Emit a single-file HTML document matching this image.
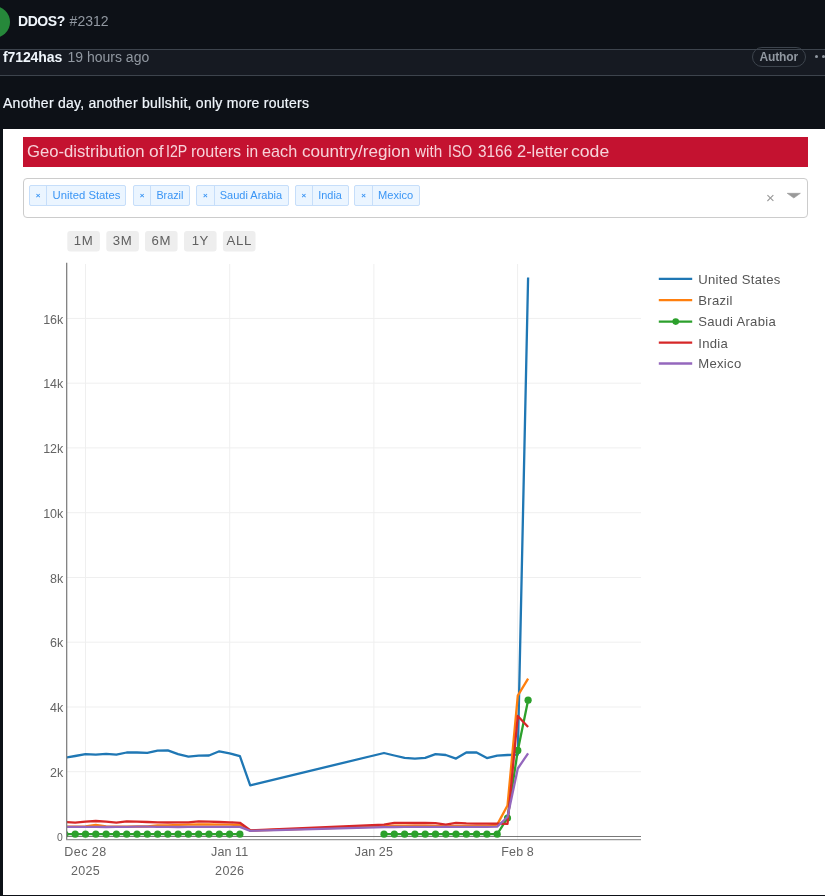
<!DOCTYPE html>
<html><head><meta charset="utf-8"><title>DDOS? #2312</title>
<style>
html,body{margin:0;padding:0}
body{width:825px;height:896px;background:#0d1117;position:relative;overflow:hidden;font-family:"Liberation Sans",sans-serif;color:#f0f6fc}
.abs{position:absolute;white-space:nowrap}
.pill{left:-22px;top:6px;width:32px;height:31.5px;border-radius:16px;background:#26883a}
.ttl{left:18px;top:13px;font-size:14px;line-height:16px;font-weight:700;letter-spacing:-0.45px}
.num{left:69.6px;top:13px;font-size:14px;line-height:16px;color:#9198a1}
.hdr{left:0;top:49px;width:825px;height:25px;background:#161a22;border-top:1px solid #3d444d;border-bottom:1px solid #3d444d}
.usr{left:3px;top:49px;font-size:14px;line-height:16px;font-weight:700;letter-spacing:-0.1px}
.ago{left:67.5px;top:49px;font-size:14px;line-height:16px;color:#9198a1}
.badge{left:752px;top:46.6px;width:51.5px;height:18px;border:1px solid #3d444d;border-radius:10px;font-size:12px;line-height:18px;font-weight:700;color:#9198a1;text-align:center;letter-spacing:-0.15px}
.dot{width:3px;height:3px;border-radius:50%;background:#9198a1;top:55px}
.body{left:3px;top:95px;font-size:14px;line-height:16px;letter-spacing:0.255px;-webkit-text-stroke:0.2px #f0f6fc}
.img{left:3px;top:128.7px;width:822px;height:766.2px;background:#fff}
.red{left:23px;top:137.2px;width:785px;height:29.6px;background:#c41230}
.rt{left:0;top:142.2px;width:825px;height:20px;font-size:16.6px;line-height:20px;color:#f7d3d9}
.rt span{position:absolute;top:0;display:block;transform-origin:0 50%;white-space:nowrap}
.sel{left:23px;top:178.2px;width:783px;height:37.6px;border:1px solid #ccc;border-radius:4px;background:#fff}
.tag{position:absolute;top:185px;height:19px;border:1px solid #c6defa;border-radius:2px;background:#ebf5ff;color:#3a95f5;box-sizing:content-box;white-space:nowrap;margin-left:0}
.tag .tx{position:absolute;left:0;top:0;width:16.4px;height:19px;border-right:1px solid #c6defa;text-align:center;font-size:8px;line-height:19.5px;font-weight:700}
.tag .tl{position:absolute;left:22.6px;top:0;line-height:19px}
.clr{left:766px;top:188.5px;font-size:15px;line-height:18px;color:#999}
svg text{font-family:"Liberation Sans",sans-serif}
</style></head><body><div id="wrap" style="position:absolute;left:0;top:0;width:825px;height:896px;will-change:transform">
<div class="abs pill"></div>
<div class="abs ttl">DDOS?</div><div class="abs num">#2312</div>
<div class="abs hdr"></div>
<div class="abs usr">f7124has</div><div class="abs ago">19 hours ago</div>
<div class="abs badge">Author</div>
<div class="abs dot" style="left:815px"></div><div class="abs dot" style="left:821.5px"></div>
<div class="abs body">Another day, another bullshit, only more routers</div>
<div class="abs img"></div>
<div class="abs red"></div>
<div class="abs rt"><span style="left:27.3px;transform:scaleX(1.004)">Geo-distribution</span> <span style="left:149.2px;transform:scaleX(1.046)">of</span> <span style="left:166.2px;transform:scaleX(0.853)">I2P</span> <span style="left:191.4px;transform:scaleX(0.971)">routers</span> <span style="left:245.5px;transform:scaleX(0.934)">in</span> <span style="left:261.8px;transform:scaleX(0.977)">each</span> <span style="left:301.8px;transform:scaleX(1.030)">country/region</span> <span style="left:415.2px;transform:scaleX(0.919)">with</span> <span style="left:447.9px;transform:scaleX(0.851)">ISO</span> <span style="left:478.2px;transform:scaleX(0.926)">3166</span> <span style="left:516.5px;transform:scaleX(0.991)">2-letter</span> <span style="left:571.3px;transform:scaleX(1.062)">code</span></div>
<div class="abs sel"></div>
<div class="tag" style="left:29px;width:95.4px"><span class="tx">×</span><span class="tl" style="font-size:11.3px">United States</span></div><div class="tag" style="left:132.8px;width:55.2px"><span class="tx">×</span><span class="tl" style="font-size:10.8px">Brazil</span></div><div class="tag" style="left:196.2px;width:90.4px"><span class="tx">×</span><span class="tl" style="font-size:11px">Saudi Arabia</span></div><div class="tag" style="left:294.7px;width:51.9px"><span class="tx">×</span><span class="tl" style="font-size:10.9px">India</span></div><div class="tag" style="left:354.4px;width:63.8px"><span class="tx">×</span><span class="tl" style="font-size:11.1px">Mexico</span></div>
<div class="abs clr">×</div>
<svg class="abs" style="left:0;top:0" width="825" height="896" viewBox="0 0 825 896">
<path d="M787.2,193.3h13.2l-6.6,4.7z" fill="#999" stroke="#999" stroke-width="0.6" stroke-linejoin="round"/>
<g font-size="13.2" fill="#606060"><rect x="67.3" y="231" width="32.6" height="20.5" rx="3" fill="#eeeeee"/><text x="83.6" y="244.8" text-anchor="middle" letter-spacing="0.6">1M</text><rect x="106.3" y="231" width="32.6" height="20.5" rx="3" fill="#eeeeee"/><text x="122.6" y="244.8" text-anchor="middle" letter-spacing="0.6">3M</text><rect x="145" y="231" width="32.6" height="20.5" rx="3" fill="#eeeeee"/><text x="161.3" y="244.8" text-anchor="middle" letter-spacing="0.6">6M</text><rect x="184" y="231" width="32.6" height="20.5" rx="3" fill="#eeeeee"/><text x="200.3" y="244.8" text-anchor="middle" letter-spacing="0.6">1Y</text><rect x="222.9" y="231" width="32.6" height="20.5" rx="3" fill="#eeeeee"/><text x="239.20000000000002" y="244.8" text-anchor="middle" letter-spacing="0.6">ALL</text></g>
<g stroke="#efefef" stroke-width="1" fill="none"><path d="M85.5,264V840"/><path d="M229.7,264V840"/><path d="M373.9,264V840"/><path d="M517.6,264V840"/><path d="M67,771.7H641"/><path d="M67,707.0H641"/><path d="M67,642.2H641"/><path d="M67,577.5H641"/><path d="M67,512.7H641"/><path d="M67,447.9H641"/><path d="M67,383.2H641"/><path d="M67,318.4H641"/></g>
<path d="M67,836.5H641" stroke="#555" stroke-width="0.8"/>
<clipPath id="cp"><rect x="67" y="264" width="574" height="576"/></clipPath>
<g clip-path="url(#cp)" fill="none" stroke-width="2.3" stroke-linejoin="round">
<path d="M64.9,757.8 L75.2,756.0 L85.5,754.2 L95.8,754.7 L106.1,753.8 L116.4,754.7 L126.7,752.5 L137.0,752.5 L147.3,752.8 L157.6,750.6 L167.8,750.4 L178.1,754.2 L188.4,756.7 L198.7,755.7 L209.0,755.5 L219.3,751.3 L229.6,753.3 L239.9,756.2 L250.2,785.3 L384.0,753.0 L394.3,755.5 L404.6,757.9 L414.9,758.6 L425.2,757.9 L435.5,754.2 L445.8,755.0 L456.0,758.6 L466.3,752.5 L476.6,752.5 L486.9,758.1 L497.2,755.7 L507.5,755.0 L517.8,754.7 L528.1,277.4" stroke="#1f77b4"/>
<path d="M64.9,826.6 L75.2,826.6 L85.5,826.5 L95.8,825.0 L106.1,826.5 L116.4,826.6 L126.7,826.6 L137.0,826.5 L147.3,826.5 L157.6,825.4 L167.8,825.4 L178.1,824.8 L188.4,824.6 L198.7,824.4 L209.0,824.5 L219.3,824.6 L229.6,824.7 L239.9,825.0 L250.2,830.6 L384.0,826.4 L394.3,825.6 L404.6,825.6 L414.9,825.6 L425.2,825.6 L435.5,825.8 L445.8,826.3 L456.0,825.8 L466.3,825.8 L476.6,825.8 L486.9,825.8 L497.2,824.6 L507.5,805.5 L517.8,695.7 L528.1,678.6" stroke="#ff7f0e"/>
<path d="M64.9,834.2 L75.2,834.2 L85.5,834.2 L95.8,834.2 L106.1,834.2 L116.4,834.2 L126.7,834.2 L137.0,834.2 L147.3,834.2 L157.6,834.2 L167.8,834.2 L178.1,834.2 L188.4,834.2 L198.7,834.2 L209.0,834.2 L219.3,834.2 L229.6,834.2 L239.9,834.2 M384.0,834.2 L394.3,834.2 L404.6,834.2 L414.9,834.2 L425.2,834.2 L435.5,834.2 L445.8,834.2 L456.0,834.2 L466.3,834.2 L476.6,834.2 L486.9,834.2 L497.2,834.2 L507.5,818.0 L517.8,750.4 L528.1,700.2" stroke="#2ca02c"/>
<g fill="#2ca02c" stroke="none"><circle cx="64.9" cy="834.2" r="3.6"/><circle cx="75.2" cy="834.2" r="3.6"/><circle cx="85.5" cy="834.2" r="3.6"/><circle cx="95.8" cy="834.2" r="3.6"/><circle cx="106.1" cy="834.2" r="3.6"/><circle cx="116.4" cy="834.2" r="3.6"/><circle cx="126.7" cy="834.2" r="3.6"/><circle cx="137.0" cy="834.2" r="3.6"/><circle cx="147.3" cy="834.2" r="3.6"/><circle cx="157.6" cy="834.2" r="3.6"/><circle cx="167.8" cy="834.2" r="3.6"/><circle cx="178.1" cy="834.2" r="3.6"/><circle cx="188.4" cy="834.2" r="3.6"/><circle cx="198.7" cy="834.2" r="3.6"/><circle cx="209.0" cy="834.2" r="3.6"/><circle cx="219.3" cy="834.2" r="3.6"/><circle cx="229.6" cy="834.2" r="3.6"/><circle cx="239.9" cy="834.2" r="3.6"/><circle cx="384.0" cy="834.2" r="3.6"/><circle cx="394.3" cy="834.2" r="3.6"/><circle cx="404.6" cy="834.2" r="3.6"/><circle cx="414.9" cy="834.2" r="3.6"/><circle cx="425.2" cy="834.2" r="3.6"/><circle cx="435.5" cy="834.2" r="3.6"/><circle cx="445.8" cy="834.2" r="3.6"/><circle cx="456.0" cy="834.2" r="3.6"/><circle cx="466.3" cy="834.2" r="3.6"/><circle cx="476.6" cy="834.2" r="3.6"/><circle cx="486.9" cy="834.2" r="3.6"/><circle cx="497.2" cy="834.2" r="3.6"/><circle cx="507.5" cy="818.0" r="3.6"/><circle cx="517.8" cy="750.4" r="3.6"/><circle cx="528.1" cy="700.2" r="3.6"/></g>
<path d="M64.9,822.1 L75.2,822.6 L85.5,821.7 L95.8,821.0 L106.1,821.7 L116.4,822.6 L126.7,821.3 L137.0,821.6 L147.3,822.0 L157.6,822.3 L167.8,822.5 L178.1,822.3 L188.4,822.3 L198.7,821.4 L209.0,821.6 L219.3,822.0 L229.6,822.3 L239.9,822.8 L250.2,830.3 L384.0,824.6 L394.3,822.8 L404.6,822.9 L414.9,823.0 L425.2,823.0 L435.5,823.2 L445.8,824.6 L456.0,822.8 L466.3,823.4 L476.6,823.7 L486.9,823.7 L497.2,823.7 L507.5,823.9 L517.8,716.0 L528.1,727.0" stroke="#d62728"/>
<path d="M64.9,826.8 L75.2,826.8 L85.5,826.8 L95.8,826.9 L106.1,827.0 L116.4,826.8 L126.7,826.8 L137.0,826.6 L147.3,826.6 L157.6,826.8 L167.8,826.8 L178.1,827.0 L188.4,826.8 L198.7,826.8 L209.0,826.8 L219.3,826.8 L229.6,826.8 L239.9,826.9 L250.2,830.8 L384.0,827.2 L394.3,827.0 L404.6,826.9 L414.9,826.9 L425.2,826.8 L435.5,826.8 L445.8,826.8 L456.0,826.8 L466.3,826.8 L476.6,826.8 L486.9,826.8 L497.2,826.7 L507.5,817.0 L517.8,768.5 L528.1,753.3" stroke="#9467bd"/>
</g>
<path d="M66.7,262.7V840" stroke="#777" stroke-width="1.2"/>
<path d="M66.1,839.6H641" stroke="#999" stroke-width="1.2"/>
<g font-size="12.5" fill="#646464"><text x="62.8" y="841" text-anchor="end" font-size="10.4">0</text><text x="63.3" y="776.9" text-anchor="end">2k</text><text x="63.3" y="712.2" text-anchor="end">4k</text><text x="63.3" y="647.4" text-anchor="end">6k</text><text x="63.3" y="582.7" text-anchor="end">8k</text><text x="63.3" y="517.9" text-anchor="end">10k</text><text x="63.3" y="453.1" text-anchor="end">12k</text><text x="63.3" y="388.4" text-anchor="end">14k</text><text x="63.3" y="323.6" text-anchor="end">16k</text><text x="85.5" y="855.9" text-anchor="middle" letter-spacing="0.45">Dec 28</text><text x="85.5" y="875.3" text-anchor="middle" letter-spacing="0.35">2025</text><text x="229.7" y="855.9" text-anchor="middle" letter-spacing="0.1">Jan 11</text><text x="229.7" y="875.3" text-anchor="middle" letter-spacing="0.35">2026</text><text x="373.9" y="855.9" text-anchor="middle" letter-spacing="0.1">Jan 25</text><text x="517.6" y="855.9" text-anchor="middle" letter-spacing="0.1">Feb 8</text></g>
<g font-size="13.1" fill="#555" letter-spacing="0.3"><path d="M658.8,278.9H692.2" stroke="#1f77b4" stroke-width="2.3"/><text x="698.2" y="283.7">United States</text><path d="M658.8,300.2H692.2" stroke="#ff7f0e" stroke-width="2.3"/><text x="698.2" y="305.0">Brazil</text><path d="M658.8,321.6H692.2" stroke="#2ca02c" stroke-width="2.3"/><text x="698.2" y="326.4">Saudi Arabia</text><path d="M658.8,342.7H692.2" stroke="#d62728" stroke-width="2.3"/><text x="698.2" y="347.5">India</text><path d="M658.8,363.5H692.2" stroke="#9467bd" stroke-width="2.3"/><text x="698.2" y="368.3">Mexico</text></g>
<circle cx="675.7" cy="321.6" r="3.3" fill="#2ca02c"/>
</svg>
</div></body></html>
